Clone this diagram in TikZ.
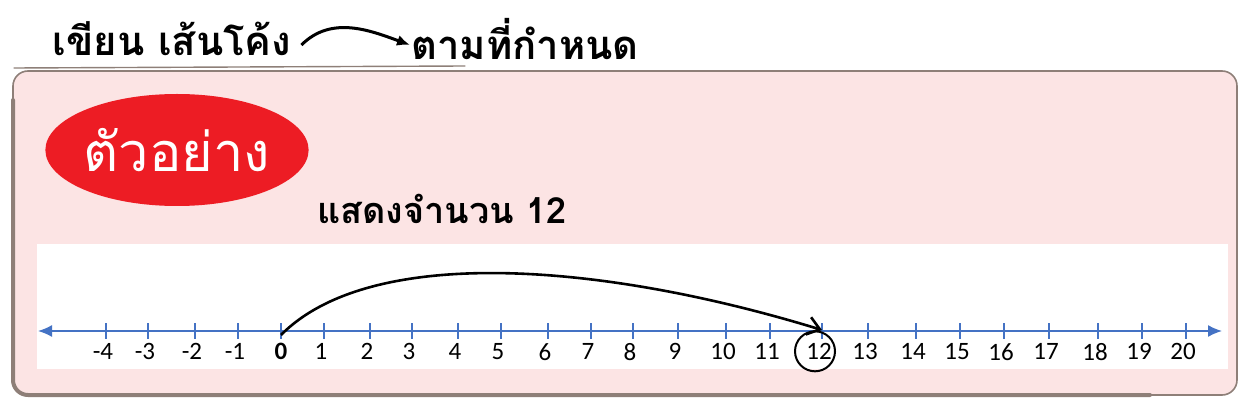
\documentclass[tikz,border=0pt]{standalone}
\usepackage{fontspec}
\setmainfont{Carlito}
\newfontfamily\thaifont[Script=Thai]{Loma}
\usetikzlibrary{arrows.meta,shapes.geometric,positioning}

\definecolor{boxpink}{HTML}{FCE4E4}
\definecolor{boxline}{HTML}{8E7F78}
\definecolor{tagred}{HTML}{ED1C24}
\definecolor{axisblue}{HTML}{4472C4}

\tikzset{
  numlbl/.style={font=\fontsize{25}{25}\selectfont, inner sep=0pt},
  tick/.style={axisblue, line width=1.3pt},
  sketch/.style={boxline, line width=1.4pt, line cap=round},
}

\begin{document}
\begin{tikzpicture}[x=1pt,y=-1pt]
  \useasboundingbox (0,0) rectangle (1245,403);

  % heading
  \node[font=\thaifont\bfseries\fontsize{40}{40}\selectfont, inner sep=0pt] (head1) at (172,39) {เขียน เส้นโค้ง};
  \node[font=\thaifont\bfseries\fontsize{40}{40}\selectfont, inner sep=0pt] (head2) at (525,39) {ตามที่กำหนด};
  \draw[-{Latex[length=13pt,width=11pt]}, line width=3pt] ([xshift=10pt,yshift=-6pt]head1.east) to[out=45,in=160] ([xshift=-1pt,yshift=-6pt]head2.west);

  % frame
  \draw[boxline, line width=1.6pt, fill=boxpink, rounded corners=15pt] (13,71) rectangle (1237,395);
  \draw[sketch] (14,68) -- (465,66);
  \draw[sketch, line width=4pt, rounded corners=15pt] (13,100) -- (13,395) -- (1150,395);
  \fill[white] (37,244) rectangle (1228,369);

  % tag
  \node[ellipse, fill=tagred, minimum width=260pt, minimum height=112pt, inner sep=0pt,
        text=white, font=\thaifont\fontsize{54}{54}\selectfont] (tag) at (177,150) {ตัวอย่าง};
  \node[font=\thaifont\bfseries\fontsize{36}{36}\selectfont, inner sep=0pt, anchor=west] (task) at (317,209) {แสดงจำนวน 12};

  % number line
  \coordinate (lend) at (38,331);
  \coordinate (rend) at (1222,331);
  \draw[axisblue, line width=1.6pt, {Latex[length=14pt,width=12pt]}-{Latex[length=14pt,width=12pt]}] (lend) -- (rend);
  \foreach \n/\x in {-4/106,-3/148,-2/195,-1/238,0/281,1/324,2/370,3/412,4/458,5/501,6/548,
                     7/591,8/633,9/678,10/726,11/770,12/822,13/868,14/916,15/960,16/1004,
                     17/1049,18/1098,19/1142,20/1186}{
    \coordinate (t\n) at (\x,331);
    \draw[tick] ([yshift=-8pt]t\n) -- ([yshift=8pt]t\n);
  }
  \foreach \n in {-4,...,-1,1,2,...,20}
    \node[numlbl, below=12pt of t\n, xshift=-3pt] (l\n) {\n};
  \node[numlbl, font=\bfseries\fontsize{25}{25}\selectfont, below=12pt of t0] (l0) {0};

  \node[circle, draw, line width=2pt, minimum size=40pt, inner sep=0pt] (mark) at ([xshift=-4pt]l12) {};

  % jump
  \draw[line width=2.6pt, -{Straight Barb[length=12pt,width=18pt]}] ([yshift=-4pt]t0) .. controls (370,245) and (600,262) .. ([yshift=1pt]t12);
\end{tikzpicture}
\end{document}
